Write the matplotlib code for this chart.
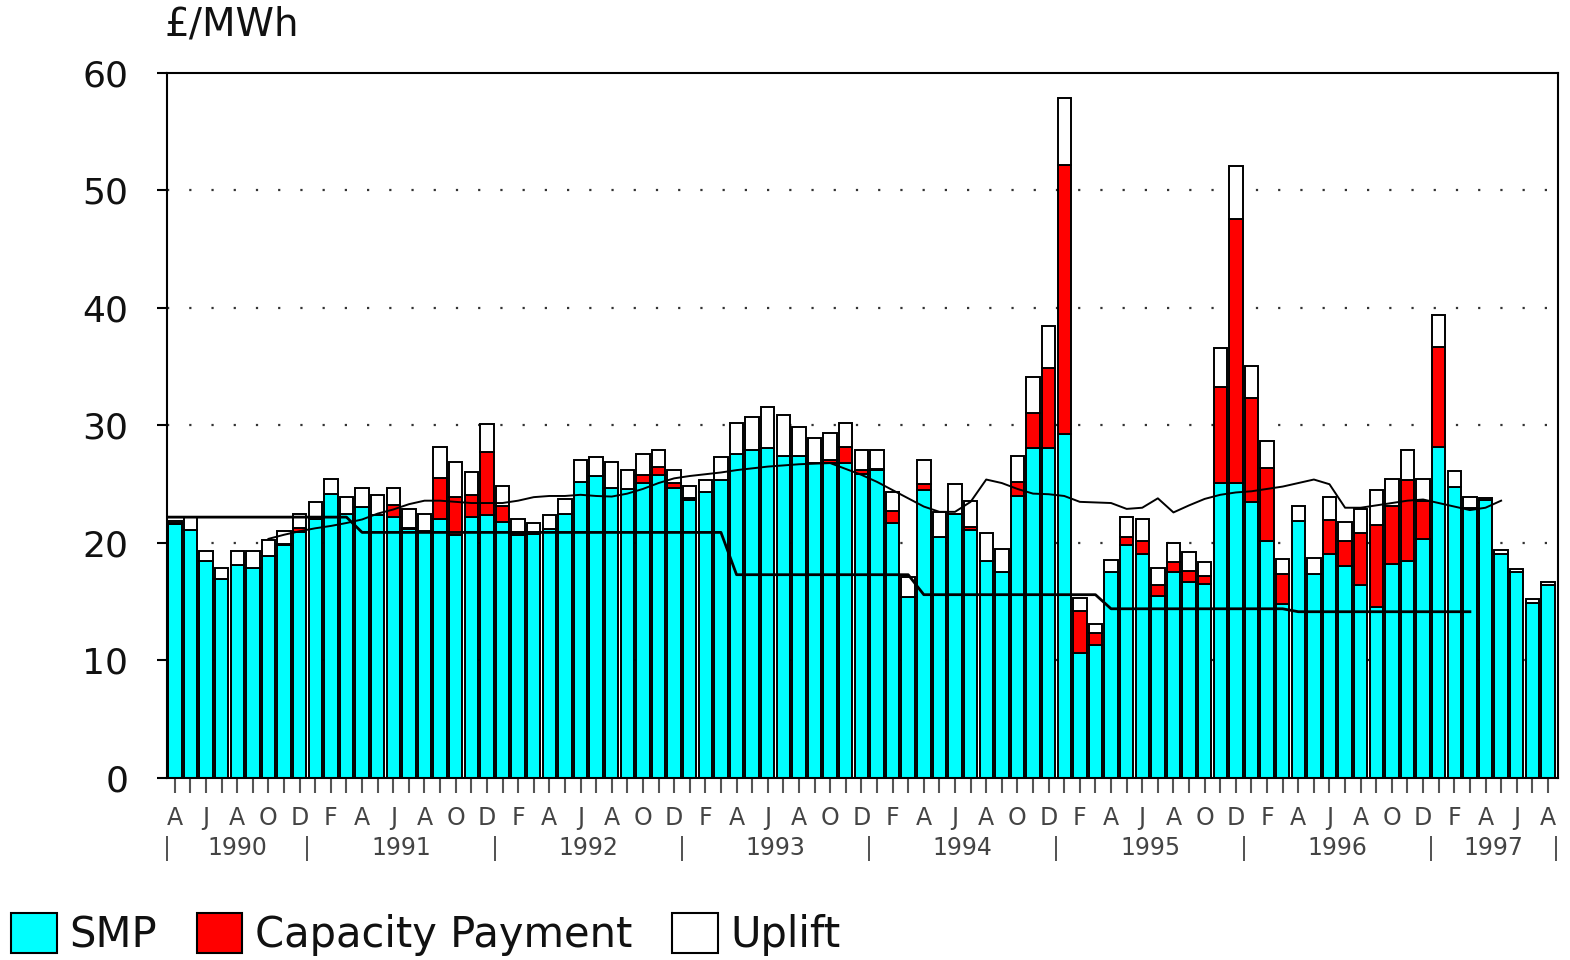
import matplotlib.pyplot as plt
import numpy as np
from matplotlib.patches import Patch

plt.rcParams['font.family'] = ['DejaVu Sans']

# monthly values, April 1990 .. August 1997 (GBP/MWh)
smp = [21.6, 21.1, 18.5, 16.9, 18.1, 17.9, 18.9, 19.8, 20.9,
       22.0, 24.2, 22.5, 23.1, 22.4, 22.2, 21.2, 21.0, 22.0, 20.7, 22.2, 22.4,
       21.8, 20.7, 20.8, 21.2, 22.5, 25.2, 25.7, 24.7, 24.6, 25.1, 25.8, 24.7,
       23.65, 24.3, 25.4, 27.6, 27.9, 28.05, 27.4, 27.4, 26.8, 26.8, 26.8, 25.9,
       26.2, 21.7, 15.4, 24.5, 20.5, 22.45, 21.1, 18.5, 17.5, 24.0, 28.1, 28.1,
       29.3, 10.6, 11.3, 17.5, 19.8, 19.1, 15.5, 17.5, 16.65, 16.5, 25.1, 25.1,
       23.5, 20.2, 14.8, 21.9, 17.4, 19.05, 18.05, 16.4, 14.55, 18.2, 18.5, 20.3,
       28.15, 24.75, 23.0, 23.65, 19.1, 17.5, 14.9, 16.4]
capacity = [0.1, 0, 0, 0, 0, 0, 0, 0.1, 0.4,
            0, 0, 0, 0, 0, 1.0, 0.1, 0, 3.5, 3.25, 1.85, 5.35,
            1.35, 0.15, 0, 0, 0, 0, 0, 0, 0, 0.7, 0.7, 0.4,
            0.2, 0, 0, 0, 0, 0, 0, 0, 0, 0.3, 1.35, 0.3,
            0.1, 1.0, 0, 0.5, 0, 0, 0.3, 0, 0, 1.2, 2.95, 6.8,
            22.9, 3.65, 1.0, 0, 0.7, 1.1, 0.9, 0.9, 0.95, 0.7, 8.2, 22.5,
            8.8, 6.15, 2.55, 0, 0, 2.9, 2.1, 4.45, 6.95, 4.95, 6.9, 3.3,
            8.5, 0, 0, 0, 0, 0, 0, 0]
uplift = [0.2, 1.1, 0.8, 1.0, 1.2, 1.4, 1.35, 1.1, 1.2,
          1.5, 1.25, 1.4, 1.6, 1.7, 1.5, 1.6, 1.5, 2.7, 2.95, 2.0, 2.35,
          1.7, 1.15, 0.9, 1.15, 1.2, 1.85, 1.65, 2.2, 1.6, 1.8, 1.4, 1.1,
          1.0, 1.1, 1.95, 2.65, 2.8, 3.5, 3.5, 2.5, 2.1, 2.3, 2.05, 1.7,
          1.6, 1.6, 1.7, 2.1, 2.15, 2.55, 2.2, 2.35, 1.95, 2.2, 3.05, 3.6,
          5.7, 1.05, 0.8, 1.05, 1.7, 1.8, 1.5, 1.6, 1.6, 1.2, 3.3, 4.5,
          2.8, 2.3, 1.25, 1.25, 1.35, 1.95, 1.6, 2.05, 3.0, 2.3, 2.5, 1.85,
          2.75, 1.35, 0.9, 0.2, 0.3, 0.3, 0.3, 0.3]

# stepped line, one value per month from April 1990 to March 1997
step_line = [22.2, 22.2, 22.2, 22.2, 22.2, 22.2, 22.2, 22.2, 22.2, 22.2, 22.2, 22.2,
             20.9, 20.9, 20.9, 20.9, 20.9, 20.9, 20.9, 20.9, 20.9, 20.9, 20.9, 20.9,
             20.9, 20.9, 20.9, 20.9, 20.9, 20.9, 20.9, 20.9, 20.9, 20.9, 20.9, 20.9,
             17.3, 17.3, 17.3, 17.3, 17.3, 17.3, 17.3, 17.3, 17.3, 17.3, 17.3, 17.3,
             15.6, 15.6, 15.6, 15.6, 15.6, 15.6, 15.6, 15.6, 15.6, 15.6, 15.6, 15.6,
             14.4, 14.4, 14.4, 14.4, 14.4, 14.4, 14.4, 14.4, 14.4, 14.4, 14.4, 14.4,
             14.15, 14.15, 14.15, 14.15, 14.15, 14.15, 14.15, 14.15, 14.15, 14.15, 14.15, 14.15]

# smooth line, starts October 1990 (month index 6), ends April 1997
avg_start = 6
avg_line = [20.35, 20.7, 21.0, 21.25, 21.45, 21.7, 22.0, 22.5, 22.85, 23.3, 23.6,
            23.6, 23.5, 23.4, 23.4, 23.4, 23.6, 23.9, 24.0, 24.0, 24.1, 24.0, 23.95,
            24.2, 24.6, 25.1, 25.5, 25.7, 25.85, 26.0, 26.2, 26.35, 26.5, 26.6, 26.7,
            26.75, 26.8, 26.3, 25.8, 25.2, 24.5, 23.8, 23.1, 22.65, 22.65, 23.5, 25.4,
            25.1, 24.6, 24.2, 24.15, 24.0, 23.5, 23.45, 23.4, 22.9, 23.0, 23.8, 22.6,
            23.2, 23.75, 24.1, 24.3, 24.4, 24.6, 24.8, 25.1, 25.4, 25.0, 23.0, 23.0,
            23.2, 23.4, 23.6, 23.7, 23.4, 23.1, 22.8, 23.0, 23.6]

months_per_year = [9, 12, 12, 12, 12, 12, 12, 8]
year_labels = ["1990", "1991", "1992", "1993", "1994", "1995", "1996", "1997"]
first_month = 3  # April
month_letters = "JFMAMJJASOND"

smp = np.array(smp)
capacity = np.array(capacity)
uplift = np.array(uplift)
x = np.arange(len(smp))

fig = plt.figure(figsize=(15.7, 9.6), dpi=100)
ax = fig.add_axes([0.1064, 0.1896, 0.886, 0.7344])

for y in range(10, 60, 10):
    ax.axhline(y, ls=(0, (1, 9)), lw=1.6, color='#333333', zorder=0.5)

w = 0.86
edge = dict(edgecolor='black', linewidth=1.4)
ax.bar(x, smp, w, color='#00ffff', zorder=2, **edge)
ax.bar(x, capacity, w, bottom=smp, color='#ff0000', zorder=2, **edge)
ax.bar(x, uplift, w, bottom=smp + capacity, color='white', zorder=2, **edge)

step_x = np.concatenate([[-0.5], np.arange(len(step_line))])
step_y = [step_line[0]] + step_line
ax.plot(step_x, step_y, color='black', lw=2.0, zorder=3)
ax.plot(np.arange(avg_start, avg_start + len(avg_line)), avg_line, color='black', lw=1.4, zorder=3)

ax.set_xlim(-0.5, 88.65)
ax.set_ylim(0, 60)
ax.set_yticks(range(0, 61, 10))
ax.tick_params(axis='y', length=7, width=1.5, pad=21, labelsize=26, labelcolor='#111111')
for s in ax.spines.values():
    s.set_linewidth(1.5)

labels = [month_letters[(first_month + i) % 12] if i % 2 == 0 else '' for i in x]
ax.set_xticks(x)
ax.set_xticklabels(labels)
ax.tick_params(axis='x', length=11, width=1.5, color='#555555', pad=9,
               labelsize=17, labelcolor='#444444')

bounds = np.concatenate([[0], np.cumsum(months_per_year)]) - 0.5
tr = ax.get_xaxis_transform()
for b in bounds:
    ax.text(b, -0.1, '|', transform=tr, ha='center', va='center', fontsize=17, color='#555555')
for lab, a, b in zip(year_labels, bounds[:-1], bounds[1:]):
    ax.text((a + b) / 2, -0.1, lab, transform=tr, ha='center', va='center',
            fontsize=17, color='#444444')

fig.text(0.105, 0.974, '£/MWh', fontsize=28, ha='left', va='center', color='#111111')

handles = [Patch(facecolor='#00ffff', edgecolor='black', linewidth=1.5, label='SMP'),
           Patch(facecolor='#ff0000', edgecolor='black', linewidth=1.5, label='Capacity Payment'),
           Patch(facecolor='white', edgecolor='black', linewidth=1.5, label='Uplift')]
fig.legend(handles=handles, loc='lower left', bbox_to_anchor=(0.007, 0.004), ncol=3,
           frameon=False, fontsize=30, handlelength=1.1, handleheight=1.1,
           handletextpad=0.3, columnspacing=0.95, borderpad=0, borderaxespad=0,
           labelcolor='#111111')

fig.savefig('out.png', dpi=100)
